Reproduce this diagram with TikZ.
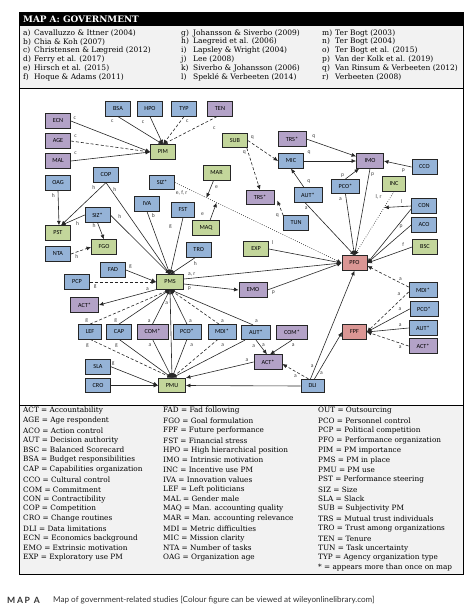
\documentclass[tikz,border=0pt]{standalone}
\usepackage{fontspec}
\setmainfont{DejaVu Serif}
\newfontfamily\mapsans{Carlito}
\newfontfamily\capsans{Lato}
\usetikzlibrary{arrows.meta,positioning,calc}

\definecolor{vblue}{HTML}{95B3D7}
\definecolor{vpurp}{HTML}{B3A2C7}
\definecolor{vgreen}{HTML}{C3D69B}
\definecolor{vred}{HTML}{DA9694}
\definecolor{legbg}{HTML}{F2F2F2}

\begin{document}
\begin{tikzpicture}[
  x=1pt, y=-1pt,
  >={Latex[length=4.6pt,width=4pt]},
  V/.style={
    rectangle, draw=black!85, line width=0.7pt,
    font=\mapsans\fontsize{6.2}{7}\selectfont,
    minimum width=25pt, minimum height=14.5pt, inner sep=1pt
  },
  B/.style={V, fill=vblue},
  P/.style={V, fill=vpurp},
  G/.style={V, fill=vgreen},
  R/.style={V, fill=vred},
  wide/.style={minimum width=28pt},
  arr/.style={->, draw=black!85, line width=0.6pt},
  dsh/.style={arr, dash pattern=on 3pt off 2pt},
  dtt/.style={arr, dash pattern=on 0.7pt off 1.6pt},
  lbl/.style={font=\mapsans\fontsize{5.6}{6}\selectfont, text=black!75, inner sep=1pt},
  leg/.style={anchor=west, inner sep=0pt, font=\fontsize{7.3}{9}\selectfont},
  ref/.style={anchor=west, inner sep=0pt, font=\fontsize{7.5}{9}\selectfont}
]
\useasboundingbox (0,0) rectangle (476,614);

% frame, header and legends
\fill[legbg] (19,26) rectangle (463,88);
\fill[legbg] (19,405) rectangle (463,574);
\fill[black] (19,12.7) rectangle (463,26);
\draw[line width=0.8pt] (19,12.7) rectangle (463,574);
\draw[line width=0.8pt] (19,88) -- (463,88);
\draw[line width=0.8pt] (19,405) -- (463,405);

\node[anchor=west, inner sep=0pt, text=white, font=\bfseries\fontsize{8.9}{10}\selectfont] (title) at (23,19.5) {MAP A: GOVERNMENT};

\foreach \lab/\txt [count=\i from 0] in {a/Cavalluzzo \& Ittner (2004), b/Chia \& Koh (2007), c/Christensen \& Lægreid (2012), d/Ferry et al. (2017), e/Hirsch et al. (2015), f/Hoque \& Adams (2011)}
  \node[ref] (rA\i) at (23,{33+8.8*\i}) {\makebox[11pt][l]{\lab)}\txt};
\foreach \lab/\txt [count=\i from 0] in {g/Johansson \& Siverbo (2009), h/Laegreid et al. (2006), i/Lapsley \& Wright (2004), j/Lee (2008), k/Siverbo \& Johansson (2006), l/Speklé \& Verbeeten (2014)}
  \node[ref] (rB\i) at (181,{33+8.8*\i}) {\makebox[12pt][l]{\lab)}\txt};
\foreach \lab/\txt [count=\i from 0] in {m/Ter Bogt (2003), n/Ter Bogt (2004), o/Ter Bogt et al. (2015), p/Van der Kolk et al. (2019), q/Van Rinsum \& Verbeeten (2012), r/Verbeeten (2008)}
  \node[ref] (rC\i) at (322,{33+8.8*\i}) {\makebox[13pt][l]{\lab)}\txt};

\foreach \txt [count=\i from 0] in {ACT = Accountability, AGE = Age respondent, ACO = Action control, AUT = Decision authority, BSC = Balanced Scorecard, BSA = Budget responsibilities, CAP = Capabilities organization, CCO = Cultural control, COM = Commitment, CON = Contractibility, COP = Competition, CRO = Change routines, DLI = Data limitations, ECN = Economics background, EMO = Extrinsic motivation, EXP = Exploratory use PM}
  \node[leg] (lgA\i) at (23,{411+9.8*\i}) {\txt};
\foreach \txt [count=\i from 0] in {FAD = Fad following, FGO = Goal formulation, FPF = Future performance, FST = Financial stress, HPO = High hierarchical position, IMO = Intrinsic motivation, INC = Incentive use PM, IVA = Innovation values, LEF = Left politicians, MAL = Gender male, MAQ = Man. accounting quality, MAR = Man. accounting relevance, MDI = Metric difficulties, MIC = Mission clarity, NTA = Number of tasks, OAG = Organization age}
  \node[leg] (lgB\i) at (163,{411+9.8*\i}) {\txt};
\foreach \txt [count=\i from 0] in {OUT = Outsourcing, PCO = Personnel control, PCP = Political competition, PFO = Performance organization, PIM = PM importance, PMS = PM in place, PMU = PM use, PST = Performance steering, SIZ = Size, SLA = Slack, SUB = Subjectivity PM, TRS = Mutual trust individuals, TRO = Trust among organizations, TEN = Tenure, TUN = Task uncertainty, TYP = Agency organization type, * = appears more than once on map}
  \node[leg] (lgC\i) at (318,{411+9.8*\i}) {\txt};

% map nodes
\node[P] (ECN) at (58,121) {ECN};
\node[P] (AGE) at (58,141) {AGE};
\node[P] (MAL) at (58,161) {MAL};
\node[B] (BSA) at (118,109) {BSA};
\node[B] (HPO) at (150,109) {HPO};
\node[B] (TYP) at (184,109) {TYP};
\node[P] (TEN) at (220,109) {TEN};
\node[G] (PIM) at (163,152) {PIM};
\node[G] (SUB) at (235,140.5) {SUB};
\node[P, wide] (TRSa) at (292,139) {TRS*};
\node[B] (MIC) at (291,161) {MIC};
\node[P, minimum width=27pt] (IMO) at (370,161) {IMO};
\node[B] (CCO) at (424.5,167) {CCO};
\node[B, wide] (PCOa) at (345.5,186.5) {PCO*};
\node[B, wide] (AUTa) at (308,195) {AUT*};
\node[G, minimum width=23pt] (INC) at (394,184) {INC};
\node[P, wide] (TRSb) at (260,197.5) {TRS*};
\node[B] (CON) at (424,206) {CON};
\node[B] (ACO) at (424,225) {ACO};
\node[B] (TUN) at (296,223) {TUN};
\node[G] (BSC) at (425,247) {BSC};
\node[G] (EXP) at (256,249) {EXP};
\node[R] (PFO) at (354.5,263) {PFO};
\node[B] (COP) at (106,175) {COP};
\node[B] (OAG) at (58,183) {OAG};
\node[B] (SIZa) at (162,182.5) {SIZ*};
\node[G, minimum width=27pt] (MAR) at (216.5,173) {MAR};
\node[B] (IVA) at (147,204) {IVA};
\node[B, minimum width=23pt] (FST) at (183,210) {FST};
\node[B] (SIZb) at (97.5,215) {SIZ*};
\node[G] (PST) at (58,233) {PST};
\node[G, minimum width=27pt] (MAQ) at (206,228) {MAQ};
\node[G] (FGO) at (104,247) {FGO};
\node[B] (NTA) at (58,254) {NTA};
\node[B] (TRO) at (198.7,249.7) {TRO};
\node[B] (FAD) at (113,270) {FAD};
\node[B] (PCP) at (77,282) {PCP};
\node[G, minimum width=27pt] (PMS) at (170,282) {PMS};
\node[P, wide] (ACTa) at (84.5,305) {ACT*};
\node[P, wide] (EMO) at (253,290) {EMO};
\node[B, wide] (MDIc) at (423,290) {MDI*};
\node[B, wide] (PCOc) at (424,309) {PCO*};
\node[B, wide] (AUTc) at (423,328) {AUT*};
\node[P, wide] (ACTc) at (423,346) {ACT*};
\node[B, minimum width=23pt] (LEF) at (90,331.7) {LEF};
\node[B] (CAP) at (119,331.7) {CAP};
\node[P, minimum width=31pt] (COMb) at (152.5,331.7) {COM*};
\node[B, wide] (PCOb) at (187,331.7) {PCO*};
\node[B, wide] (MDIb) at (222,331.7) {MDI*};
\node[B, minimum width=29pt] (AUTb) at (256,332.5) {AUT*};
\node[P, minimum width=31pt] (COMc) at (292,332.5) {COM*};
\node[R, minimum width=24pt] (FPF) at (354.5,332) {FPF};
\node[P, wide] (ACTb) at (268,362) {ACT*};
\node[B] (SLA) at (98,366.7) {SLA};
\node[B] (CRO) at (98,385.5) {CRO};
\node[G, minimum width=27pt] (PMU) at (172,385.5) {PMU};
\node[B, minimum width=23pt, minimum height=13.5pt] (DLI) at (312.5,386) {DLI};

% points on the moderated paths
\coordinate (mINC) at ($(INC.south)!0.25!(PFO.north)$);
\coordinate (mSIZ1) at ($(SIZa.east)!0.19!(PFO.west)$);
\coordinate (mSIZ2) at ($(SIZa.east)!0.25!(PFO.west)$);

% PIM
\draw[arr] (ECN.east) -- node[lbl, pos=0.05, above=2pt] {c} (PIM.west);
\draw[dsh] (AGE.east) -- node[lbl, pos=0.06, above=3pt] {c} (PIM.west);
\draw[arr] (MAL.east) -- node[lbl, pos=0.06, above=5pt] {c} (PIM.west);
\draw[arr] (BSA.south) -- node[lbl, pos=0.15, left=10pt] {c} (PIM.north);
\draw[arr] (HPO.south) -- node[lbl, pos=0.2, left=7pt] {c} (PIM.north);
\draw[dsh] (TYP.south) -- node[lbl, pos=0.15, right=4pt] {c} (PIM.north);
\draw[dsh] ([xshift=-3pt]TEN.south) -- node[lbl, pos=0.15, below right=5pt and 3pt] {c} (PIM.north);

% IMO, MIC
\draw[dsh] (SUB.east) -- node[lbl, pos=0.15, above=3pt] {q} (MIC.west);
\draw[dsh] ([xshift=-1pt]SUB.south east) -- node[lbl, pos=0.1, left=1pt] {q} (TRSb.north);
\draw[dsh] (TUN.north west) -- node[lbl, pos=0, left=3pt] {q} ([shift={(3pt,-3pt)}]TRSb.east);
\draw[arr] (TRSa.east) -- node[lbl, pos=0.15, above=2pt] {q} ([yshift=-3pt]IMO.north west);
\draw[arr] (MIC.east) -- node[lbl, pos=0.1, above=5pt] {q} (IMO.west);
\draw[arr] ([xshift=-4pt]AUTa.north) -- node[lbl, pos=0.3, right=6pt] {q} (MIC.south);
\draw[arr] (PCOa.north) -- node[lbl, pos=0.35, left=5pt] {p} ([xshift=3pt]IMO.south west);
\draw[arr] (CCO.west) -- node[lbl, pos=0.3, below=2pt] {p} (IMO.east);

% PFO
\draw[arr] (IMO.south) -- node[lbl, pos=0.07, right=1pt] {p} (PFO.north);
\draw[arr] (PCOa.south) -- node[lbl, pos=0.08, left=3pt] {a} (PFO.north);
\draw[arr] ([xshift=-3pt]AUTa.south) -- node[lbl, pos=0.1, left=1pt] {a} (PFO.north);
\draw[dtt] (INC.south) -- node[lbl, pos=0.08, left=8pt] {l, r} (PFO.north);
\draw[arr] (CON.west) -- node[lbl, pos=0.35, above=2pt] {l} (mINC);
\draw[arr] ([yshift=-3pt]CON.west) -- (PFO.east);
\draw[arr] (ACO.west) -- node[lbl, pos=0.15, above left=1pt] {p} (PFO.east);
\draw[arr] (BSC.west) -- node[lbl, pos=0.2, above=2pt] {f} (PFO.east);
\draw[arr] (EXP.east) -- node[lbl, pos=0.05, above=4pt] {l} (PFO.west);
\draw[dtt] (SIZa.east) -- node[lbl, pos=0.04, below=4pt] {e, f, r} (PFO.west);
\draw[arr] ([xshift=-3pt]MAR.south) -- node[lbl, pos=0.4, right=3pt] {e} (mSIZ1);
\draw[arr] ([xshift=4pt]MAQ.north) -- node[lbl, pos=0.35, left=7pt] {e} (mSIZ2);

% PST, FGO
\draw[arr] (OAG.south) -- node[lbl, pos=0.15, left=2pt] {h} ([xshift=1pt]PST.north);
\draw[arr] (COP.south) -- node[lbl, pos=0.12, left=4pt] {h} ([xshift=3pt]PST.north);
\draw[arr] (SIZb.west) -- node[lbl, pos=0.3, below=2pt] {h} ([xshift=3pt]PST.north);
\draw[arr] (SIZb.south) -- node[lbl, pos=0.2, left=2pt] {h} (FGO.north);
\draw[dsh] (NTA.east) -- node[lbl, pos=0.3, below=1pt] {h} (FGO.west);

% PMS
\draw[arr] (SIZb.east) -- node[lbl, pos=0.1, above right=1pt] {h} (PMS.north);
\draw[arr] (COP.south) -- node[lbl, pos=0.08, right=1pt] {h} (PMS.north);
\draw[arr] (IVA.south) -- node[lbl, pos=0.07, right=2pt] {b} (PMS.north);
\draw[arr] (FST.south) -- node[lbl, pos=0.15, left=8pt] {g} (PMS.north);
\draw[arr] ([xshift=-3pt]TRO.south) -- node[lbl, pos=0.15, below right=1pt] {h} (PMS.north);
\draw[arr] (FAD.east) -- node[lbl, pos=0.15, above=2pt] {g} (PMS.west);
\draw[dsh] (PCP.east) -- node[lbl, pos=0.08, below=1pt] {g} (PMS.west);
\draw[arr] (PMS.south west) -- node[lbl, pos=0.15, above] {a} (ACTa.east);
\draw[arr] ([yshift=-2pt]PMS.east) -- node[lbl, pos=0.1, below=1pt] {p} (EMO.west);
\draw[arr] ([yshift=3pt]PMS.east) -- node[lbl, pos=0.05, above=1pt] {a, r} (PFO.west);
\draw[arr] (EMO.east) -- node[lbl, pos=0.08, below=2pt] {p} (PFO.west);

% row between PMS and PMU
\draw[dsh] (LEF.north) -- node[lbl, pos=0, above left=1pt] {g} (PMS.south);
\draw[arr] (CAP.north) -- node[lbl, pos=0, above left=1pt] {g} (PMS.south);
\draw[arr] (COMb.north) -- node[lbl, pos=0, above left=1pt] {a} (PMS.south);
\draw[arr] (PCOb.north) -- node[lbl, pos=0, above right=1pt] {a} (PMS.south);
\draw[dsh] ([xshift=-3pt]MDIb.north) -- node[lbl, pos=0, above right=1pt] {a} (PMS.south);
\draw[arr] ([xshift=-3pt]AUTb.north) -- node[lbl, pos=0, above right=1pt] {a} (PMS.south);
\draw[dsh] (LEF.south) -- node[lbl, pos=0, below left=3pt and 0pt] {g} (PMU.north);
\draw[arr] (CAP.south) -- node[lbl, pos=0, below left=3pt and 0pt] {g} (PMU.north);
\draw[arr] (COMb.south) -- node[lbl, pos=0, below left=3pt and 0pt] {a} (PMU.north);
\draw[arr] (PCOb.south) -- node[lbl, pos=0, below right=3pt and 2pt] {a} (PMU.north);
\draw[dsh] ([xshift=-4pt]MDIb.south) -- node[lbl, pos=0, below right=3pt and 2pt] {a} (PMU.north);
\draw[arr] ([xshift=-11pt]AUTb.south) -- node[lbl, pos=0, below right=3pt and 6pt] {a} (PMU.north);
\draw[arr] (AUTb.south) -- node[lbl, pos=0.35, right=1pt] {a} ([xshift=-1pt]ACTb.north);
\draw[arr] (COMc.south) -- node[lbl, pos=0.1, below right=1pt] {a} ([xshift=2pt]ACTb.north);

% PMU
\draw[arr] (PMS.south) -- node[lbl, pos=0.15, left=1pt] {a} (PMU.north);
\draw[arr] (ACTb.west) -- node[lbl, pos=0.1, above=1pt] {a} (PMU.north east);
\draw[arr] (SLA.east) -- node[lbl, pos=0.05, above=1pt] {g} (PMU.west);
\draw[arr] (CRO.east) -- (PMU.west);
\draw[arr] (DLI.west) -- (PMU.east);

% DLI and FPF
\draw[arr] ([xshift=-2pt]DLI.north) -- node[lbl, pos=0.12, left=1pt] {a} (PFO.south);
\draw[arr] ([xshift=2pt]DLI.north) -- node[lbl, pos=0.12, right=1pt] {a} (FPF.west);
\draw[dsh] ([xshift=-4pt]DLI.north) -- node[lbl, pos=0.5, below=2pt] {a} ([yshift=-2pt]ACTb.east);
\draw[dsh] ([yshift=3pt]MDIc.west) -- node[lbl, pos=0.2, above=1pt] {a} ([yshift=-3pt]PFO.east);
\draw[dsh] ([yshift=-2pt]MDIc.west) -- node[lbl, pos=0.15, above left=1pt] {a} (FPF.east);
\draw[arr] (PCOc.west) -- node[lbl, pos=0.15, above left=1pt] {a} (FPF.east);
\draw[arr] (AUTc.west) -- node[lbl, pos=0.2, above=1pt] {a} (FPF.east);
\draw[dsh] (ACTc.west) -- node[lbl, pos=0.2, below=1pt] {a} (FPF.east);

% caption
\node[anchor=west, inner sep=0pt, text=black!80, font=\capsans\bfseries\fontsize{8.6}{9}\selectfont] (capA) at (7,600) {\addfontfeature{LetterSpace=20}MAP A};
\node[anchor=west, inner sep=0pt, text=black!80, font=\capsans\fontsize{8.1}{9}\selectfont] (capB) at (53,600) {Map of government-related studies [Colour figure can be viewed at wileyonlinelibrary.com]};
\end{tikzpicture}
\end{document}
